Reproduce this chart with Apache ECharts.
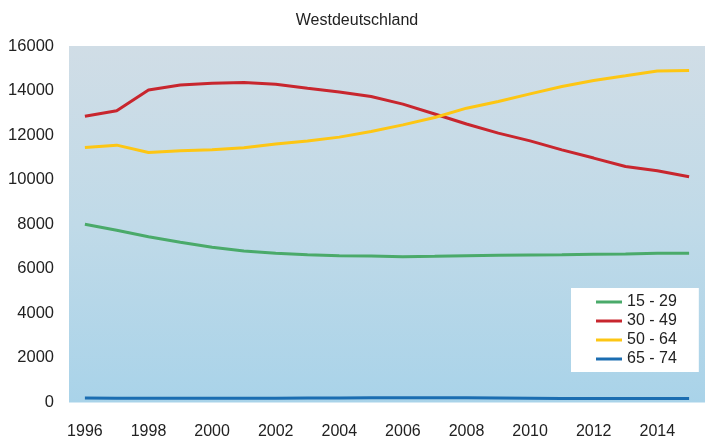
<!DOCTYPE html>
<html>
<head>
<meta charset="utf-8">
<script src="https://cdn.jsdelivr.net/npm/echarts@6/dist/echarts.min.js"></script>
<style>html,body{margin:0;padding:0;background:#fff}#c{width:705px;height:441px}</style>
</head>
<body>
<div id="c"></div>
<script>
const years = ['1996','1997','1998','1999','2000','2001','2002','2003','2004','2005','2006','2007','2008','2009','2010','2011','2012','2013','2014','2015'];
const age15_29 = [8000,7730,7440,7190,6965,6800,6695,6635,6590,6575,6545,6560,6590,6605,6620,6635,6655,6670,6695,6695];
const age30_49 = [12850,13090,14030,14250,14330,14360,14280,14100,13940,13730,13390,12950,12500,12090,11740,11340,10970,10590,10400,10130];
const age50_64 = [11440,11550,11220,11300,11340,11430,11600,11740,11910,12160,12460,12790,13210,13510,13850,14180,14450,14660,14880,14900];
const age65_74 = [200,195,190,190,190,190,195,200,205,210,215,215,210,205,195,185,180,175,180,185];
const seriesNames = ['15 - 29','30 - 49','50 - 64','65 - 74'];
const colors = ['#4aaa6a','#c8262e','#fdc614','#1b6db1'];

const chart = echarts.init(document.getElementById('c'), null, {renderer:'canvas'});
const font = 'Liberation Sans, Arial, sans-serif';
const mk = (name, data, i) => ({
  name, type:'line', data, symbol:'none', smooth:false,
  lineStyle:{width:3, color:colors[i]}, itemStyle:{color:colors[i]}
});
chart.setOption({
  animation:false,
  title:{text:'Westdeutschland', left:352, top:8, textAlign:'center',
    textStyle:{fontFamily:font, fontSize:16, fontWeight:'normal', color:'#222'}},
  grid:{left:69, right:-8, top:46, bottom:38.5, show:true, borderWidth:0,
    backgroundColor:new echarts.graphic.LinearGradient(0,0,0,1,[
      {offset:0,color:'#d0dde6'},{offset:0.5,color:'#c0dae8'},{offset:1,color:'#a9d3e9'}])},
  legend:{orient:'vertical', left:571, top:288, backgroundColor:'#fff',
    padding:[5,22,4,25], itemGap:1, itemWidth:26, itemHeight:3, icon:'rect',
    textStyle:{fontFamily:font, fontSize:16, color:'#222', lineHeight:18, padding:[0,0,0,0]},
    data:seriesNames},
  xAxis:{type:'category', data:years, boundaryGap:true,
    axisLine:{show:false}, axisTick:{show:false},
    axisLabel:{interval:1, fontFamily:font, fontSize:16, color:'#222', margin:21}},
  yAxis:{type:'value', min:0, max:16000, interval:2000,
    axisLine:{show:false}, axisTick:{show:false}, splitLine:{show:false},
    axisLabel:{fontFamily:font, fontSize:16.5, color:'#222', margin:15, formatter:(v)=>String(v)}},
  series:[mk(seriesNames[0],age15_29,0), mk(seriesNames[1],age30_49,1), mk(seriesNames[2],age50_64,2), mk(seriesNames[3],age65_74,3)]
});
</script>
</body>
</html>
